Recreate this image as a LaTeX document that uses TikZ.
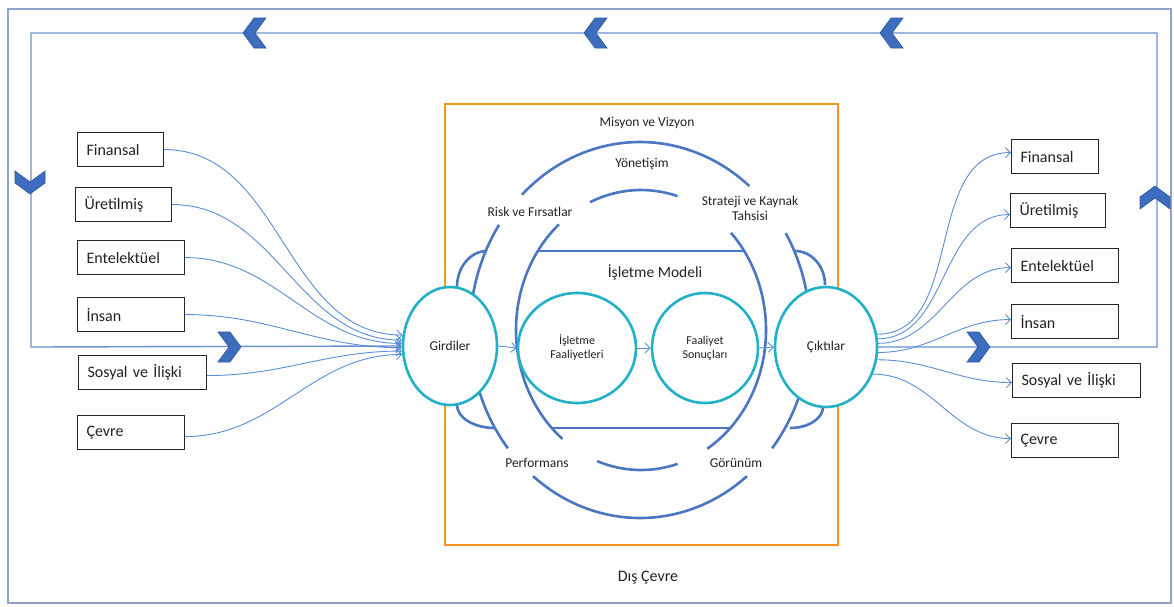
\documentclass[tikz,border=0pt]{standalone}
\usepackage{fontspec}
\setmainfont{Carlito}
\usetikzlibrary{shapes.geometric,arrows.meta,calc}
\definecolor{frameblue}{HTML}{8FA3CC}
\definecolor{loopblue}{HTML}{6A8FD3}
\definecolor{arcblue}{HTML}{4A76C2}
\definecolor{cyanring}{HTML}{22B0C6}
\definecolor{orangebox}{HTML}{F7941D}
\definecolor{chevfill}{HTML}{3C6DBE}
\definecolor{chevedge}{HTML}{2B5597}
\definecolor{linkblue}{HTML}{5B8CD6}
\definecolor{txt}{HTML}{222222}
\tikzset{
  bigarc/.style={draw=arcblue, line width=2.6pt},
  ring/.style={ellipse, draw=cyanring, line width=2.6pt, fill=white, inner sep=0pt, text=txt, align=center},
  box/.style={draw=black!85, line width=1.1pt, fill=white, minimum height=34pt, inner xsep=9pt, inner ysep=0pt, align=left, text=txt, font=\fontsize{16}{18}\selectfont, anchor=north west},
  link/.style={draw=linkblue, line width=0.9pt, -{Straight Barb[length=5pt,width=10pt]}},
  loopline/.style={draw=loopblue, line width=1.4pt},
  lbl/.style={font=\fontsize{13.5}{15}\selectfont, text=txt, align=center, inner sep=0pt},
  chev/.pic={\filldraw[fill=chevfill, draw=chevedge, line width=0.6pt] (-12,0) -- (-1,-15) -- (11,-15) -- (0,0) -- (11,15) -- (-1,15) -- cycle;}
}
\begin{document}
\begin{tikzpicture}[x=1pt,y=-1pt]
\useasboundingbox (0,0) rectangle (1174,606);
% outer frame
\draw[frameblue, line width=1.8pt] (8,9) rectangle (1171,603);
% orange box
\draw[orangebox, line width=2.6pt] (445,104) rectangle (838,545);

% outer arcs
\coordinate (O) at (640,330);
\draw[bigarc] (O) ++(-50:170 and 188) arc[start angle=-50, end angle=-134, x radius=170, y radius=188];
\draw[bigarc] (O) ++(-146:170 and 188) arc[start angle=-146, end angle=-219, x radius=170, y radius=188];
\draw[bigarc] (O) ++(-231:170 and 188) arc[start angle=-231, end angle=-309, x radius=170, y radius=188];
\draw[bigarc] (O) ++(39:170 and 188) arc[start angle=39, end angle=-31, x radius=170, y radius=188];
% inner arcs
\coordinate (I) at (641,330);
\draw[bigarc] (I) ++(-73:125 and 140) arc[start angle=-73, end angle=-114, x radius=125, y radius=140];
\draw[bigarc] (I) ++(-131:125 and 140) arc[start angle=-131, end angle=-231, x radius=125, y radius=140];
\draw[bigarc] (I) ++(-249.5:125 and 140) arc[start angle=-249.5, end angle=-287, x radius=125, y radius=140];
\draw[bigarc] (I) ++(58:125 and 140) arc[start angle=58, end angle=-44, x radius=125, y radius=140];
% chords
\draw[bigarc] (538,251) -- (744,251);
\draw[bigarc] (552,428) -- (730,428);
% ears
\draw[bigarc] (487,251) arc[start angle=-90, end angle=-180, x radius=30, y radius=36];
\draw[bigarc] (457,405) arc[start angle=180, end angle=90, x radius=38, y radius=23];
\draw[bigarc] (795,251) arc[start angle=-90, end angle=0, x radius=30, y radius=34];
\draw[bigarc] (790,428) arc[start angle=90, end angle=0, x radius=33, y radius=21];

% rings
\node[ring, minimum width=94pt, minimum height=118pt, font=\fontsize{13.5}{15}\selectfont] (gir) at (450,346) {Girdiler};
\node[ring, minimum width=102pt, minimum height=120pt, font=\fontsize{13.5}{15}\selectfont] (cik) at (826,347) {Çıktılar};
\node[ring, minimum width=118pt, minimum height=110pt, font=\fontsize{12}{14}\selectfont] (ifa) at (577,348) {İşletme\\Faaliyetleri};
\node[ring, minimum width=106pt, minimum height=110pt, font=\fontsize{12}{14}\selectfont] (fso) at (705,348) {Faaliyet\\Sonuçları};

% inner arrows
\draw[link] (gir.east) -- (ifa.west);
\draw[link] (ifa.east) -- (fso.west);
\draw[link] (fso.east) -- (cik.west);

% labels
\node[lbl] (misyon) at (647,123) {Misyon ve Vizyon};
\node[lbl] (yonet) at (642,164) {Yönetişim};
\node[lbl] (risk) at (530,212) {Risk ve Fırsatlar};
\node[lbl] (strat) at (750,208) {Strateji ve Kaynak\\Tahsisi};
\node[lbl, font=\fontsize{15.5}{17}\selectfont] (model) at (655,272) {İşletme Modeli};
\node[lbl] (perf) at (537,463) {Performans};
\node[lbl] (gor) at (736,463) {Görünüm};
\node[lbl, font=\fontsize{16}{18}\selectfont] (dis) at (648,578) {Dış Çevre};

% left boxes
\node[box, text width=68pt] (lfin) at (77,132) {Finansal};
\node[box, text width=78pt] (lure) at (75,187) {Üretilmiş};
\node[box, text width=89pt] (lent) at (77,240) {Entelektüel};
\node[box, text width=89pt] (lins) at (77,297) {İnsan};
\node[box, text width=110pt] (lsos) at (78,355) {Sosyal ve İlişki};
\node[box, text width=89pt] (lcev) at (77,415) {Çevre};
% right boxes
\node[box, text width=69pt] (rfin) at (1011,139) {Finansal};
\node[box, text width=77pt] (rure) at (1010,193) {Üretilmiş};
\node[box, text width=89pt] (rent) at (1011,248) {Entelektüel};
\node[box, text width=89pt] (rins) at (1011,304) {İnsan};
\node[box, text width=110pt] (rsos) at (1012,363) {Sosyal ve İlişki};
\node[box, text width=89pt] (rcev) at (1011,423) {Çevre};

% feedback loop
\coordinate (lr) at (1157,347);
\coordinate (ur) at (1157,33);
\coordinate (ul) at (31,33);
\coordinate (ll) at (31,347);
\draw[loopline, -{Straight Barb[length=5pt,width=10pt]}] (cik.east) -- (lr) -- (ur) -- (ul) -- (ll) -- (gir.west);

% left links
\draw[link] (lfin.east) to[out=0,in=180] (gir.167);
\draw[link] (lure.east) to[out=0,in=180] (gir.173);
\draw[link] (lent.east) to[out=0,in=180] (gir.177);
\draw[link] (lins.east) to[out=0,in=180] (gir.182);
\draw[link] ([yshift=-3pt]lsos.east) to[out=0,in=180] (gir.186);
\draw[link] ([yshift=-4pt]lcev.east) to[out=0,in=180] (gir.190);
% right links
\draw[link] (cik.14) to[out=0,in=180] ([yshift=4pt]rfin.west);
\draw[link] (cik.9) to[out=0,in=180] ([yshift=-4pt]rure.west);
\draw[link] (cik.4) to[out=0,in=180] ([yshift=-2pt]rent.west);
\draw[link] (cik.-6) to[out=0,in=180] ([yshift=2pt]rins.west);
\draw[link] (cik.-14) to[out=0,in=180] ([yshift=-2pt]rsos.west);
\draw[link] (cik.-30) to[out=0,in=180] ([yshift=2pt]rcev.west);

% chevrons
\pic at (255,33) {chev};
\pic at (596,33) {chev};
\pic at (892,33) {chev};
\pic[rotate=90] at (30,182) {chev};
\pic[rotate=180] at (229,347) {chev};
\pic[rotate=180] at (978,347) {chev};
\pic[rotate=-90] at (1155,198) {chev};
\end{tikzpicture}
\end{document}
